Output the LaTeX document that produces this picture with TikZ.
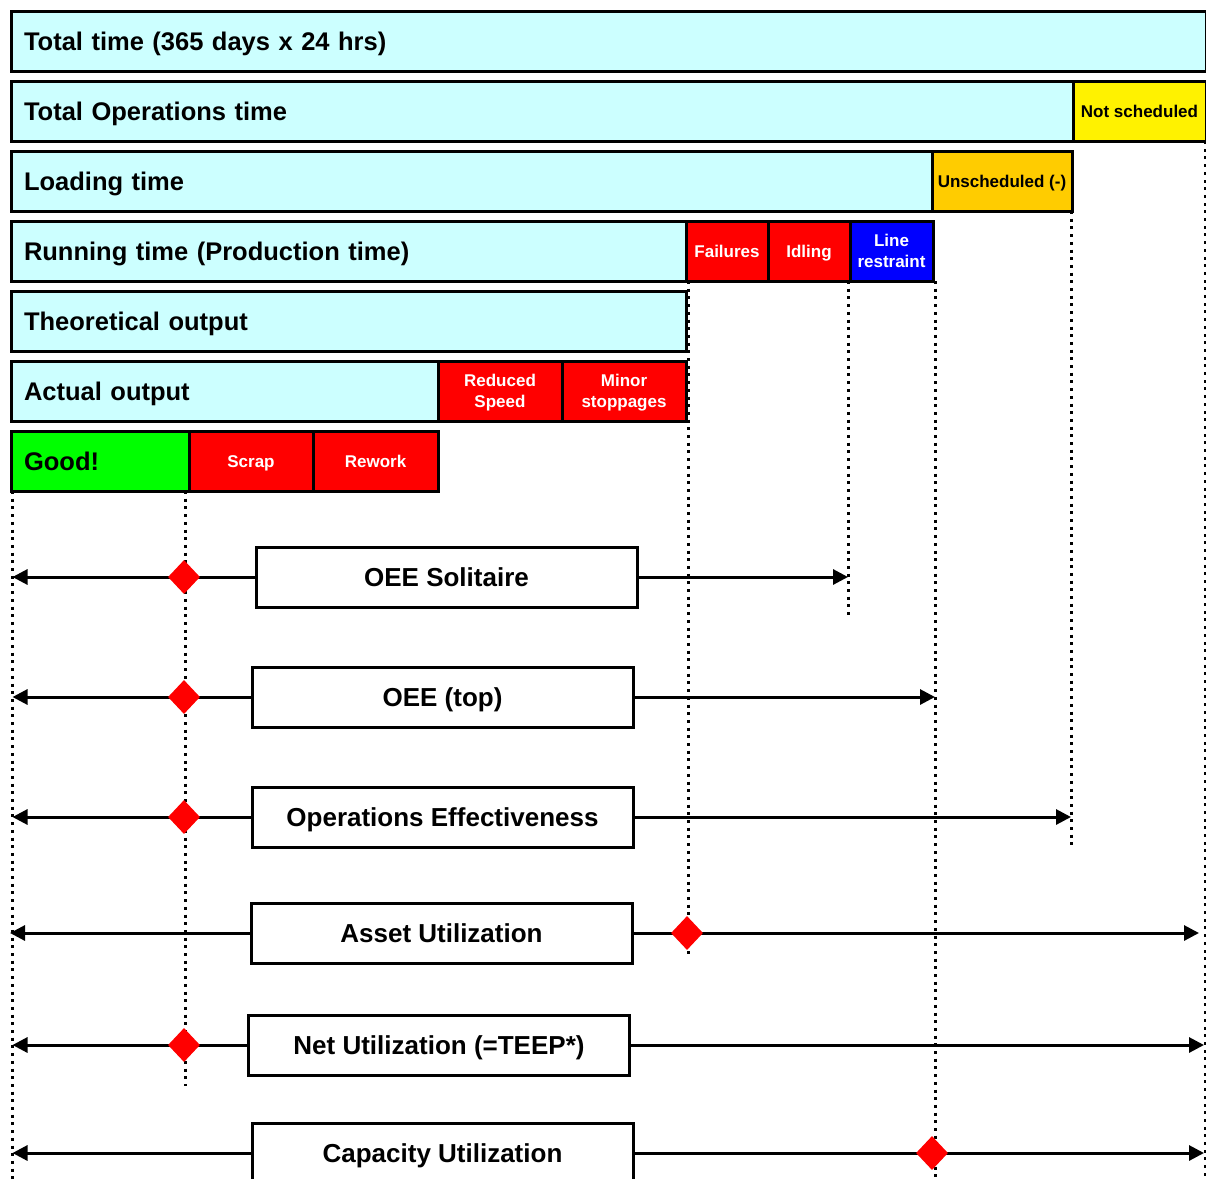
\documentclass[tikz,border=0pt]{standalone}
\usepackage{fontspec}
\setmainfont{Liberation Sans}
\usetikzlibrary{shapes,arrows.meta,positioning}
\definecolor{timecyan}{HTML}{CCFFFF}
\definecolor{unschedorange}{HTML}{FFCC00}
\newcommand{\barfont}{\fontsize{25.5}{28}\selectfont\bfseries}
\newcommand{\lossfont}{\fontsize{17}{21}\selectfont\bfseries}
\newcommand{\ratiofont}{\fontsize{26}{30}\selectfont\bfseries}
\tikzset{%
	timebar/.style 	= {draw, line width=3pt, rectangle, fill=timecyan, minimum height=60pt, outer sep=0pt, inner xsep=13pt, inner ysep=0pt, text width=#1, text height=18.3pt, text depth=-1pt, align=left, anchor=west, font=\barfont}, % Time bar
	loss/.style    	= {draw, line width=3pt, rectangle, fill=red, text=white, minimum height=60pt, minimum width=#1, outer sep=0pt, inner sep=0pt, text height=12.2pt, text depth=-1pt, align=center, anchor=west, font=\lossfont}, % Loss
	twoline/.style 	= {text height=33.5pt, text depth=-1pt}, % Two-line loss
	ratio/.style   	= {draw, line width=3pt, rectangle, fill=white, minimum height=60pt, minimum width=381pt, outer sep=0pt, inner ysep=0pt, text height=18.6pt, text depth=0pt, font=\ratiofont}, % Ratio
	marker/.style  	= {diamond, fill=red, minimum width=32pt, minimum height=34pt, inner sep=0pt}, % Diamond
	limit/.style   	= {line width=3pt, dash pattern=on 3pt off 4.7pt}, % Dotted limit
	span/.style    	= {line width=3pt, -{Triangle[length=15pt,width=15pt]}} % Arrow
}
\begin{document}
\begin{tikzpicture}[x=1pt, y=-1pt]
	\useasboundingbox (0,0) rectangle (1206,1178);
	% Time bars and losses
	\node [timebar=1169] (total) at (11,41) {Total time (365 days x 24 hrs)};
	\node [timebar=1036] (ops) at (11,111) {Total Operations time};
	\node [loss=133, fill=yellow, text=black, right=0pt of ops] (notsched) {Not scheduled};
	\node [timebar=895] (loading) at (11,181) {Loading time};
	\node [loss=140, fill=unschedorange, text=black, right=0pt of loading] (unsched) {Unscheduled (-)};
	\node [timebar=649] (running) at (11,251) {Running time (Production time)};
	\node [loss=82, right=0pt of running] (failures) {Failures};
	\node [loss=82, right=0pt of failures] (idling) {Idling};
	\node [loss=83, twoline, fill=blue, right=0pt of idling] (restraint) {Line\\restraint};
	\node [timebar=649] (theory) at (11,321) {Theoretical output};
	\node [timebar=401] (actual) at (11,391) {Actual output};
	\node [loss=124, twoline, right=0pt of actual] (reduced) {Reduced\\Speed};
	\node [loss=124, twoline, right=0pt of reduced] (minor) {Minor\\stoppages};
	\node [timebar=152, fill=green] (good) at (11,461) {Good!};
	\node [loss=124, right=0pt of good] (scrap) {Scrap};
	\node [loss=125, right=0pt of scrap] (rework) {Rework};

	% Dotted limits
	\draw[limit] ([xshift=1.5pt]good.south west) -- ++(0,690);
	\draw[limit] ([xshift=-4pt]good.south east) -- ++(0,595);
	\draw[limit] ([xshift=2pt]running.south east) -- ++(0,674);
	\draw[limit] ([xshift=-2pt]idling.south east) -- ++(0,337);
	\draw[limit] ([xshift=2pt]restraint.south east) -- ++(0,900);
	\draw[limit] ([xshift=-1pt]unsched.south east) -- ++(0,639);
	\draw[limit] ([xshift=-1pt]notsched.south east) -- ++(0,1040);

	% Ratios
	\node [ratio] (solitaire) at (446.5,577) {OEE Solitaire};
	\node [ratio] (oeetop) at (442.5,697) {OEE (top)};
	\node [ratio] (opseff) at (442.5,817) {Operations Effectiveness};
	\node [ratio] (asset) at (441.5,933) {Asset Utilization};
	\node [ratio] (net) at (439,1045) {Net Utilization (=TEEP*)};
	\node [ratio] (capacity) at (442.5,1153) {Capacity Utilization};

	\draw[span] (solitaire.west) -- (12.5,577);
	\draw[span] (solitaire.east) -- (848,577);
	\draw[span] (oeetop.west) -- (12.5,697);
	\draw[span] (oeetop.east) -- (935,697);
	\draw[span] (opseff.west) -- (12.5,817);
	\draw[span] (opseff.east) -- (1071,817);
	\draw[span] (asset.west) -- (10,933);
	\draw[span] (asset.east) -- (1199,933);
	\draw[span] (net.west) -- (12.5,1045);
	\draw[span] (net.east) -- (1204,1045);
	\draw[span] (capacity.west) -- (12.5,1153);
	\draw[span] (capacity.east) -- (1204,1153);

	% Markers
	\node [marker] (msolitaire) at (184,577) {};
	\node [marker] (moeetop) at (184,697) {};
	\node [marker] (mopseff) at (184,817) {};
	\node [marker] (masset) at (687,933) {};
	\node [marker] (mnet) at (184,1045) {};
	\node [marker] (mcapacity) at (932,1153) {};
\end{tikzpicture}
\end{document}
